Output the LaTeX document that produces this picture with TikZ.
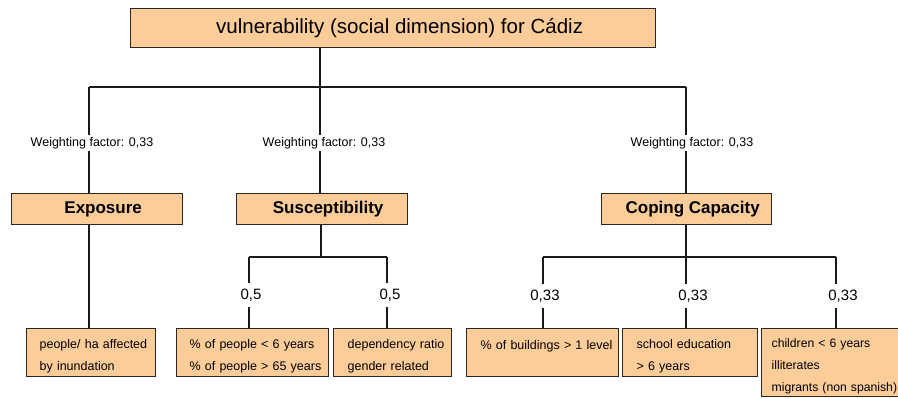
\documentclass[tikz,border=0pt]{standalone}
\usepackage{fontspec}
\setmainfont{Liberation Sans}
\definecolor{peach}{RGB}{252,204,153}
\definecolor{edge}{RGB}{45,38,32}
\newcommand{\topstrut}{\rule{0pt}{16pt}}
\tikzset{
  box/.style={draw=edge, fill=peach, line width=1.3pt, anchor=north west, inner sep=0pt},
  titlebox/.style={box, font=\fontsize{20.5}{24}\selectfont},
  catbox/.style={box, font=\fontsize{17}{20}\selectfont\bfseries},
  leaf/.style={box, align=left, inner xsep=13pt, inner ysep=0pt,
               font=\fontsize{12.5}{22}\selectfont},
  conn/.style={draw=black!90, line width=1.8pt},
  wlabel/.style={fill=white, inner sep=2pt, font=\fontsize{12.5}{15}\selectfont},
  plabel/.style={fill=white, inner xsep=2pt, inner ysep=6pt, font=\fontsize{15}{18}\selectfont}
}
\begin{document}
\begin{tikzpicture}[x=1pt,y=-1pt]
\useasboundingbox (0,0) rectangle (898,399);
% boxes
\node[titlebox, minimum width=525pt, minimum height=39pt] (title) at (130,8)
  {\hspace*{13pt}vulnerability (social dimension) for Cádiz};
\node[catbox, minimum width=171pt, minimum height=31pt] (expo) at (11,193) {\hspace*{12pt}Exposure};
\node[catbox, minimum width=171pt, minimum height=31pt] (susc) at (236,193) {\hspace*{12pt}Susceptibility};
\node[catbox, minimum width=170pt, minimum height=31pt] (cope) at (601,193) {\hspace*{12pt}Coping Capacity};

\node[leaf, text width=103pt, minimum height=48pt] (e1) at (26,328)
  {\mbox{\topstrut people/ ha affected}\\\mbox{by inundation}};
\node[leaf, text width=126pt, minimum height=48pt] (s1) at (176,328)
  {\mbox{\topstrut\% of people < 6 years}\\\mbox{\% of people > 65 years}};
\node[leaf, text width=90pt, minimum height=48pt, inner xsep=14pt] (s2) at (333,328)
  {\mbox{\topstrut dependency ratio}\\\mbox{gender related}};
\node[leaf, text width=124pt, minimum height=48pt, inner xsep=14pt] (c1) at (466,328)
  {\mbox{\topstrut\% of buildings > 1 level}\\\mbox{}};
\node[leaf, text width=107pt, minimum height=48pt, inner xsep=14pt] (c2) at (622,328)
  {\mbox{\topstrut school education}\\\mbox{> 6 years}};
\node[leaf, text width=117pt, minimum height=68pt, inner xsep=10pt,
      font=\fontsize{12.2}{22}\selectfont] (c3) at (761,328)
  {\mbox{\topstrut children < 6 years}\\\mbox{illiterates}\\\mbox{migrants (non spanish)}};

% junction coordinates
\coordinate (j0) at (320,87);
\coordinate (jl) at (89,87);
\coordinate (jr) at (686,87);
\coordinate (sj) at (321,257);
\coordinate (sjl) at (249,257);
\coordinate (sjr) at (387,257);
\coordinate (cj) at (686,257);
\coordinate (cjl) at (543,257);
\coordinate (cjr) at (836,257);

% connectors
\draw[conn] (title.south -| j0) -- (j0);
\draw[conn] (jl) -- (jr);
\draw[conn] (jl) -- (expo.north -| jl);
\draw[conn] (j0) -- (susc.north -| j0);
\draw[conn] (jr) -- (cope.north -| jr);
\draw[conn] (expo.south -| jl) -- (e1.north -| jl);

\draw[conn] (susc.south -| sj) -- (sj);
\draw[conn] (sjl) -- (sjr);
\draw[conn] (sjl) -- (s1.north -| sjl);
\draw[conn] (sjr) -- (s2.north -| sjr);

\draw[conn] (cope.south -| cj) -- (cj);
\draw[conn] (cjl) -- (cjr);
\draw[conn] (cjl) -- (c1.north -| cjl);
\draw[conn] (cj) -- (c2.north -| cj);
\draw[conn] (cjr) -- (c3.north -| cjr);

% labels
\node[wlabel] (w1) at (92,143) {Weighting factor: 0,33};
\node[wlabel] (w2) at (324,143) {Weighting factor: 0,33};
\node[wlabel] (w3) at (692,143) {Weighting factor: 0,33};
\node[plabel] (p1) at (251,295) {0,5};
\node[plabel] (p2) at (390,295) {0,5};
\node[plabel] (p3) at (545,296) {0,33};
\node[plabel] (p4) at (693,296) {0,33};
\node[plabel] (p5) at (843,296) {0,33};
\end{tikzpicture}
\end{document}
